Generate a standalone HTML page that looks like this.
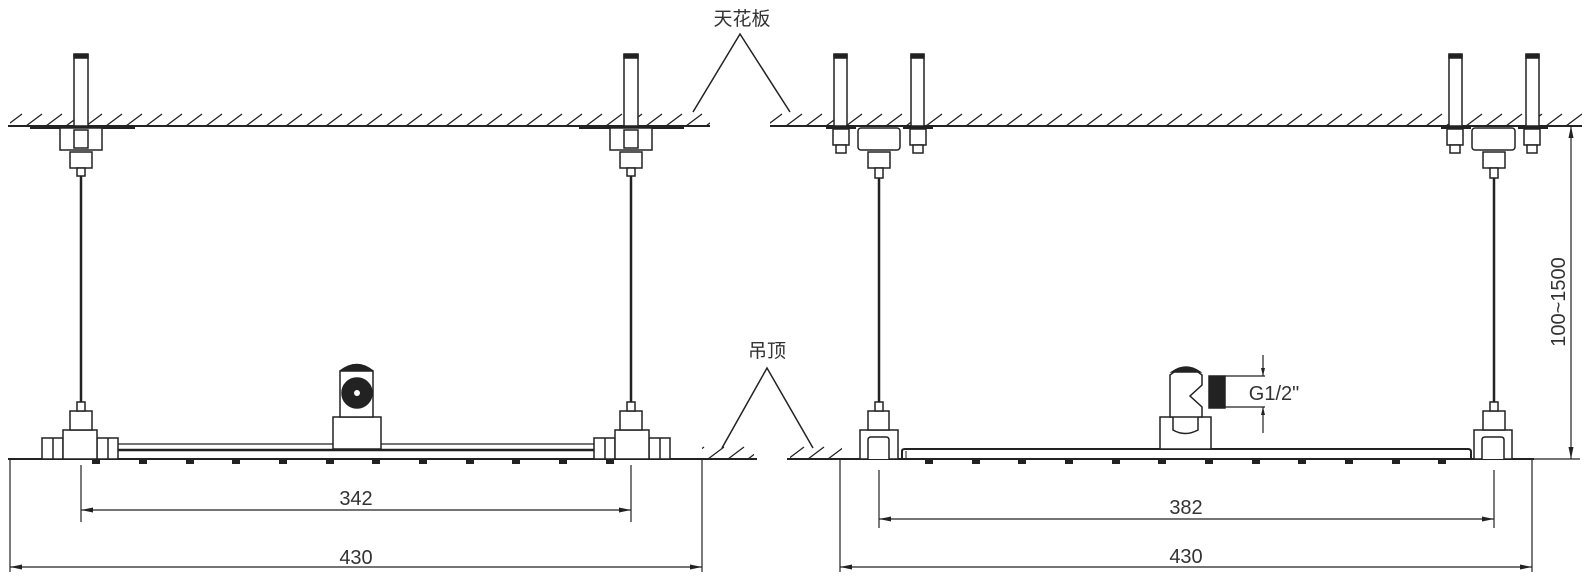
<!DOCTYPE html>
<html><head><meta charset="utf-8"><style>html,body{margin:0;padding:0;background:#fff}svg{display:block}</style></head>
<body>
<svg width="1590" height="578" viewBox="0 0 1590 578" xmlns="http://www.w3.org/2000/svg" font-family="Liberation Sans, Noto Sans CJK SC, sans-serif">
<defs>
<pattern id="h" width="20" height="14" patternUnits="userSpaceOnUse" x="4" y="112">
<line x1="2" y1="14" x2="18" y2="2" stroke="#222" stroke-width="1.3"/>
</pattern>
<pattern id="h2" width="20" height="14" patternUnits="userSpaceOnUse" x="6" y="445">
<line x1="2" y1="14" x2="18" y2="2" stroke="#222" stroke-width="1.3"/>
</pattern>
</defs>
<g stroke="#222" fill="none" stroke-width="1.5">
<!-- ceilings -->
<rect x="10" y="112" width="700" height="14" fill="url(#h)" stroke="none"/>
<rect x="770" y="112" width="812" height="14" fill="url(#h)" stroke="none"/>
<line x1="8" y1="126" x2="710" y2="126" stroke-width="2"/>
<line x1="770" y1="126" x2="1582" y2="126" stroke-width="2"/>
<!-- lower ceiling pieces -->
<rect x="702" y="445" width="52" height="13" fill="url(#h2)" stroke="none"/>
<rect x="790" y="445" width="52" height="13" fill="url(#h2)" stroke="none"/>
<line x1="660" y1="459" x2="757" y2="459" stroke-width="2"/>
<line x1="787" y1="459" x2="840" y2="459" stroke-width="2"/>
<!-- labels leaders -->
<polyline points="693,112 740,34 790,112"/>
<polyline points="722,448 767,368 813,448"/>
</g>
<g fill="#fff" stroke="#222" stroke-width="1.5">
<!-- LEFT VIEW top fittings -->
<rect x="74" y="55" width="14" height="71"/>
<rect x="74" y="54" width="14" height="4" fill="#222"/>
<rect x="624" y="55" width="14" height="71"/>
<rect x="624" y="54" width="14" height="4" fill="#222"/>
<rect x="30" y="126" width="105" height="3" fill="#222" stroke="none"/>
<rect x="579" y="126" width="105" height="3" fill="#222" stroke="none"/>
<rect x="60" y="128" width="42" height="22"/>
<rect x="74" y="130" width="14" height="18"/>
<rect x="70" y="152" width="22" height="16"/>
<rect x="77" y="168" width="8" height="8"/>
<rect x="610" y="128" width="42" height="22"/>
<rect x="624" y="130" width="14" height="18"/>
<rect x="620" y="152" width="22" height="16"/>
<rect x="627" y="168" width="8" height="8"/>
<!-- RIGHT VIEW top fittings -->
<rect x="834" y="55" width="13" height="71"/><rect x="834" y="54" width="13" height="4" fill="#222"/>
<rect x="911" y="55" width="13" height="71"/><rect x="911" y="54" width="13" height="4" fill="#222"/>
<rect x="1449" y="55" width="13" height="71"/><rect x="1449" y="54" width="13" height="4" fill="#222"/>
<rect x="1526" y="55" width="13" height="71"/><rect x="1526" y="54" width="13" height="4" fill="#222"/>
<rect x="826" y="126" width="30" height="3" fill="#222" stroke="none"/>
<rect x="903" y="126" width="30" height="3" fill="#222" stroke="none"/>
<rect x="1441" y="126" width="30" height="3" fill="#222" stroke="none"/>
<rect x="1518" y="126" width="30" height="3" fill="#222" stroke="none"/>
<rect x="833" y="129" width="16" height="16"/><rect x="836" y="145" width="10" height="8"/>
<rect x="910" y="129" width="16" height="16"/><rect x="913" y="145" width="10" height="8"/>
<rect x="1447" y="129" width="16" height="16"/><rect x="1450" y="145" width="10" height="8"/>
<rect x="1524" y="129" width="16" height="16"/><rect x="1527" y="145" width="10" height="8"/>
<rect x="858" y="128" width="42" height="22" rx="3"/>
<rect x="868" y="152" width="22" height="16"/>
<rect x="875" y="168" width="8" height="10"/>
<rect x="1472" y="128" width="43" height="22" rx="3"/>
<rect x="1483" y="152" width="22" height="16"/>
<rect x="1490" y="168" width="8" height="10"/>
</g>
<g stroke="#222" fill="none">
<!-- cables -->
<line x1="81" y1="176" x2="81" y2="403" stroke-width="2.5"/>
<line x1="631" y1="176" x2="631" y2="403" stroke-width="2.5"/>
<line x1="879" y1="178" x2="879" y2="403" stroke-width="2.5"/>
<line x1="1494" y1="178" x2="1494" y2="403" stroke-width="2.5"/>
<!-- base lines -->
<line x1="8" y1="459" x2="702" y2="459" stroke-width="2"/>
<line x1="838" y1="459" x2="1534" y2="459" stroke-width="2"/>
<!-- panels -->
<line x1="118" y1="444" x2="594" y2="444" stroke-width="1.2"/>
<line x1="118" y1="450" x2="594" y2="450" stroke-width="2.5"/>
<path d="M902 459 V451 Q902 449 905 449 H1468 Q1471 449 1471 452 V459" stroke-width="2"/>
<line x1="906" y1="451" x2="906" y2="459" stroke-width="1"/>
</g>
<g fill="#222">
<rect x="92" y="460" width="8" height="4"/><rect x="139" y="460" width="8" height="4"/><rect x="186" y="460" width="8" height="4"/><rect x="232" y="460" width="8" height="4"/><rect x="279" y="460" width="8" height="4"/><rect x="326" y="460" width="8" height="4"/><rect x="372" y="460" width="8" height="4"/><rect x="419" y="460" width="8" height="4"/><rect x="466" y="460" width="8" height="4"/><rect x="512" y="460" width="8" height="4"/><rect x="559" y="460" width="8" height="4"/><rect x="606" y="460" width="8" height="4"/>
<rect x="925" y="460" width="8" height="4"/><rect x="972" y="460" width="8" height="4"/><rect x="1018" y="460" width="8" height="4"/><rect x="1065" y="460" width="8" height="4"/><rect x="1112" y="460" width="8" height="4"/><rect x="1158" y="460" width="8" height="4"/><rect x="1205" y="460" width="8" height="4"/><rect x="1252" y="460" width="8" height="4"/><rect x="1298" y="460" width="8" height="4"/><rect x="1345" y="460" width="8" height="4"/><rect x="1392" y="460" width="8" height="4"/><rect x="1438" y="460" width="8" height="4"/>
</g>
<g fill="#fff" stroke="#222" stroke-width="1.5">
<!-- left view bottom fixtures -->
<rect x="42" y="438" width="21" height="21"/><line x1="53" y1="438" x2="53" y2="459"/>
<rect x="97" y="438" width="21" height="21"/><line x1="108" y1="438" x2="108" y2="459"/>
<rect x="63" y="430" width="34" height="29"/>
<rect x="70" y="411" width="22" height="19"/>
<rect x="77" y="402" width="8" height="9"/>
<rect x="594" y="438" width="21" height="21"/><line x1="605" y1="438" x2="605" y2="459"/>
<rect x="649" y="438" width="21" height="21"/><line x1="660" y1="438" x2="660" y2="459"/>
<rect x="615" y="430" width="34" height="29"/>
<rect x="620" y="411" width="22" height="19"/>
<rect x="627" y="402" width="8" height="9"/>
<!-- center fixture left -->
<rect x="333" y="417" width="48" height="32"/>
<rect x="340" y="371" width="33" height="46"/>
<circle cx="357" cy="393" r="15" fill="#222"/>
<circle cx="357" cy="393" r="3" fill="#fff" stroke="none"/>
<path d="M340 371 Q357 358 373 371" fill="#222"/>
<!-- right view bottom fixtures -->
<rect x="860" y="430" width="38" height="29"/>
<path d="M868 459 V440 Q868 437 871 437 H886 Q889 437 889 440 V459"/>
<rect x="868" y="411" width="21" height="19"/>
<rect x="875" y="402" width="8" height="9"/>
<rect x="1474" y="430" width="38" height="29"/>
<path d="M1482 459 V440 Q1482 437 1485 437 H1501 Q1504 437 1504 440 V459"/>
<rect x="1483" y="411" width="22" height="19"/>
<rect x="1490" y="402" width="8" height="9"/>
<!-- G1/2 fixture -->
<rect x="1160" y="417" width="51" height="32"/>
<path d="M1173 417 V430 Q1185 437 1198 430 V417"/>
<path d="M1170 417 V375 Q1186 362 1202 375 V385 L1190 396 L1202 407 V417 Z"/>
<path d="M1172 372 Q1186 362 1200 372 Z" fill="#222"/>
<rect x="1209" y="376" width="16" height="32" fill="#222"/>
</g>
<g stroke="#222" stroke-width="1.2" fill="none">
<line x1="1225" y1="376" x2="1265" y2="376"/>
<line x1="1225" y1="407" x2="1265" y2="407"/>
<line x1="1263" y1="355" x2="1263" y2="376"/>
<line x1="1263" y1="407" x2="1263" y2="433"/>
<!-- dimension lines left -->
<line x1="10" y1="459" x2="10" y2="572"/>
<line x1="702" y1="459" x2="702" y2="572"/>
<line x1="81" y1="465" x2="81" y2="522"/>
<line x1="631" y1="465" x2="631" y2="522"/>
<line x1="81" y1="510" x2="631" y2="510"/>
<line x1="10" y1="567" x2="702" y2="567"/>
<!-- right -->
<line x1="840" y1="459" x2="840" y2="572"/>
<line x1="1532" y1="459" x2="1532" y2="572"/>
<line x1="879" y1="470" x2="879" y2="528"/>
<line x1="1494" y1="470" x2="1494" y2="528"/>
<line x1="879" y1="519" x2="1494" y2="519"/>
<line x1="840" y1="567" x2="1532" y2="567"/>
<line x1="1571" y1="126" x2="1571" y2="459"/>
<line x1="1532" y1="459" x2="1580" y2="459"/>
</g>
<g fill="#222">
<path d="M81 510 l12 -2.5 v5z"/><path d="M631 510 l-12 -2.5 v5z"/>
<path d="M10 567 l12 -2.5 v5z"/><path d="M702 567 l-12 -2.5 v5z"/>
<path d="M879 519 l12 -2.5 v5z"/><path d="M1494 519 l-12 -2.5 v5z"/>
<path d="M840 567 l12 -2.5 v5z"/><path d="M1532 567 l-12 -2.5 v5z"/>
<path d="M1571 126 l-2.5 12 h5z"/><path d="M1571 459 l-2.5 -12 h5z"/>
<path d="M1263 376 l-2 -8 h4z"/><path d="M1263 407 l-2 8 h4z"/>
</g>
<g fill="#333" font-size="20">
<text x="356" y="505" text-anchor="middle">342</text>
<text x="356" y="564" text-anchor="middle">430</text>
<text x="1186" y="514" text-anchor="middle">382</text>
<text x="1186" y="563" text-anchor="middle">430</text>
<text x="1274" y="400" text-anchor="middle">G1/2"</text>
<text transform="translate(1565,302) rotate(-90)" text-anchor="middle">100~1500</text>
<text x="742" y="25" text-anchor="middle" font-size="19">天花板</text>
<text x="767" y="357" text-anchor="middle" font-size="19">吊顶</text>
</g>
</svg>
</body></html>
